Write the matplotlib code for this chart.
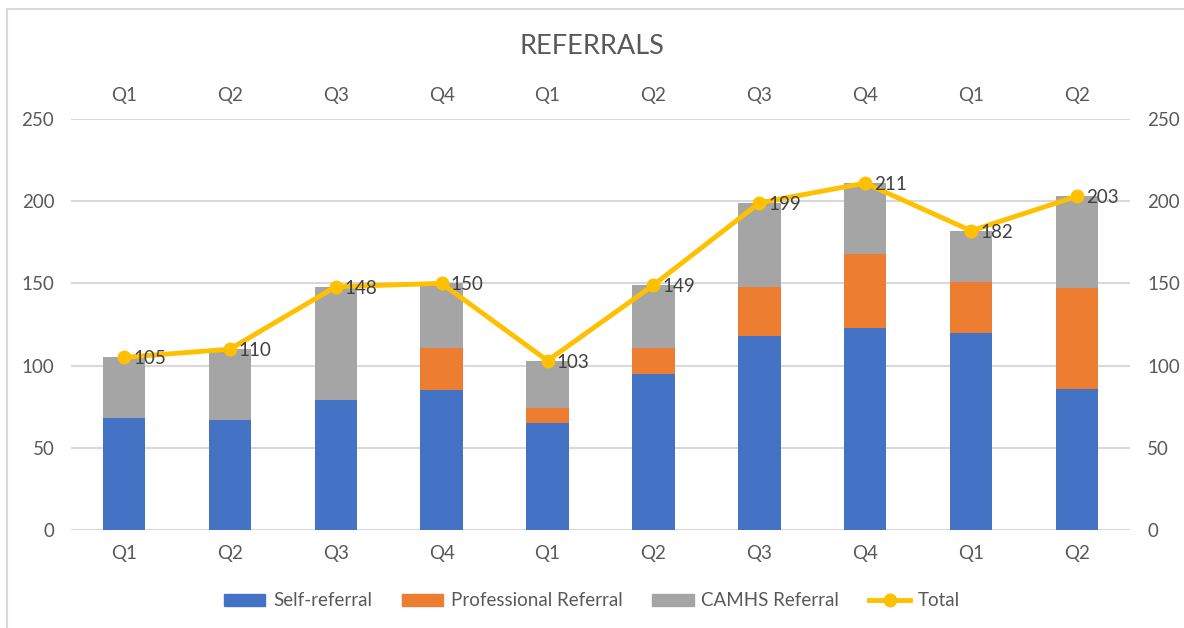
import matplotlib
matplotlib.use("Agg")
import matplotlib.pyplot as plt
from matplotlib.patches import Rectangle
from matplotlib.lines import Line2D
import numpy as np

plt.rcParams['font.family'] = ['Lato', 'DejaVu Sans']

quarters = ["Q1", "Q2", "Q3", "Q4", "Q1", "Q2", "Q3", "Q4", "Q1", "Q2"]
self_referral = [68, 67, 79, 85, 65, 95, 118, 123, 120, 86]
professional = [0, 0, 0, 26, 9, 16, 30, 45, 31, 61]
totals = [105, 110, 148, 150, 103, 149, 199, 211, 182, 203]
camhs = [t - s - p for t, s, p in zip(totals, self_referral, professional)]
series_names = ["Self-referral", "Professional Referral", "CAMHS Referral", "Total"]

c_blue, c_orange, c_gray, c_gold = "#4472C4", "#ED7D31", "#A5A5A5", "#FFC000"
txt = "#595959"
grid = "#D9D9D9"
fs = 13.5

fig = plt.figure(figsize=(11.84, 6.28), dpi=100)
fig.patch.set_facecolor("white")
fig.add_artist(Rectangle((7 / 1184, -0.1), 1.2, 1 - 9 / 628 + 0.1, transform=fig.transFigure,
                         fill=False, edgecolor=grid, lw=1.5))

ax = fig.add_axes([71 / 1184, 1 - 530 / 628, (1130 - 71) / 1184, (530 - 119) / 628])
x = np.arange(len(quarters))
w = 0.4
sr = np.array(self_referral)
pr = np.array(professional)
cr = np.array(camhs)
ax.bar(x, sr, w, color=c_blue, zorder=2)
ax.bar(x, pr, w, bottom=sr, color=c_orange, zorder=2)
ax.bar(x, cr, w, bottom=sr + pr, color=c_gray, zorder=2)

ax.set_xlim(-0.5, len(quarters) - 0.5)
ax.set_ylim(0, 250)
ax.set_yticks(range(0, 251, 50))
ax.yaxis.grid(True, color=grid, lw=1.5, zorder=0)
ax.set_axisbelow(True)
for s in ax.spines.values():
    s.set_visible(False)
ax.set_xticks(x)
ax.set_xticklabels(quarters)
ax.tick_params(axis='both', length=0, colors=txt, labelsize=fs)
ax.tick_params(axis='x', pad=11)
ax.tick_params(axis='y', pad=12)

sec = ax.secondary_xaxis('top')
sec.set_xticks(x)
sec.set_xticklabels(quarters)
sec.tick_params(length=0, colors=txt, labelsize=fs, pad=11)
for s in sec.spines.values():
    s.set_visible(False)

ax2 = ax.twinx()
ax2.set_ylim(0, 250)
ax2.set_yticks(range(0, 251, 50))
ax2.tick_params(axis='y', length=0, colors=txt, labelsize=fs, pad=12.5)
for s in ax2.spines.values():
    s.set_visible(False)
ax2.plot(x, totals, color=c_gold, lw=3.5, marker='o', markersize=9, zorder=5)
for xi, t in zip(x, totals):
    ax2.annotate(str(t), (xi, t), xytext=(6.5, -1), textcoords='offset points',
                 ha='left', va='center', fontsize=fs, color="#404040", zorder=10)

fig.text(0.5, 1 - 47 / 628, "REFERRALS", ha='center', va='center', fontsize=19.5, color=txt)

handles = [Rectangle((0, 0), 1, 1, color=c_blue), Rectangle((0, 0), 1, 1, color=c_orange),
           Rectangle((0, 0), 1, 1, color=c_gray),
           Line2D([0], [0], color=c_gold, lw=3.5, marker='o', markersize=9)]
leg = fig.legend(handles, series_names, loc='center', bbox_to_anchor=(0.5, 1 - 601 / 628),
                 ncol=4, frameon=False, fontsize=fs, handlelength=2.2, handleheight=0.6,
                 columnspacing=1.6, handletextpad=0.4)
for t in leg.get_texts():
    t.set_color(txt)

fig.savefig("out.png", dpi=100, facecolor="white")
